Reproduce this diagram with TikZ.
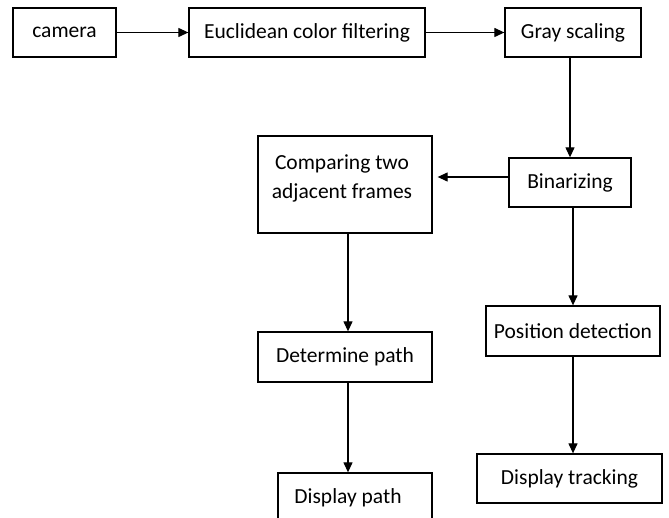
\documentclass[tikz,border=0pt]{standalone}
\usepackage{fontspec}
\setmainfont{Carlito}
\usetikzlibrary{arrows.meta}
\begin{document}
\begin{tikzpicture}[x=1pt,y=-1pt,
  box/.style={draw=black,line width=1.3pt,inner sep=0pt,font=\fontsize{21.5}{28}\selectfont,align=center},
  txt/.style={inner sep=0pt,font=\fontsize{21.5}{29}\selectfont,align=center},
  arr/.style={line width=1.2pt,-{Triangle[length=10pt,width=9pt]}}]
\useasboundingbox (0,0) rectangle (669,518);
\node[box,minimum width=103pt,minimum height=49pt] (cam) at (64.5,32.5) {camera};
\node[box,minimum width=236pt,minimum height=49pt] (euc) at (307,32.5) {Euclidean color filtering};
\node[box,minimum width=136pt,minimum height=49pt] (gray) at (573,32.5) {Gray scaling};
\node[box,minimum width=122pt,minimum height=49pt] (bin) at (570,182.5) {Binarizing};
\node[box,minimum width=174pt,minimum height=97pt] (comp) at (345,184.5) {};
\node[txt] (compt) at (342,178) {Comparing two\\adjacent frames};
\node[box,minimum width=174pt,minimum height=50pt] (det) at (345,357) {Determine path};
\node[box,minimum width=154pt,minimum height=55pt] (dp) at (355,500.5) {};
\node[txt] (dpt) at (348,498) {Display path};
\node[box,minimum width=174pt,minimum height=50pt] (pos) at (573,331) {Position detection};
\node[box,minimum width=185pt,minimum height=49pt] (dt) at (569.5,478.5) {Display tracking};
\draw[arr] (cam) -- (euc);
\draw[arr] (euc) -- (gray);
\draw[arr] (bin.north |- gray.south) -- (bin.north);
\draw[arr] ([yshift=5.5pt]bin.west) -- ([yshift=7.5pt,xshift=5pt]comp.east);
\draw[arr] ([xshift=3pt]comp.south) -- ([xshift=3pt]det.north);
\draw[arr] ([xshift=3pt]det.south) -- ([xshift=3pt]det.south |- dp.north);
\draw[arr] ([xshift=3pt]bin.south) -- ([xshift=3pt]bin.south |- pos.north);
\draw[arr] (pos.south) -- (pos.south |- dt.north);
\end{tikzpicture}
\end{document}
